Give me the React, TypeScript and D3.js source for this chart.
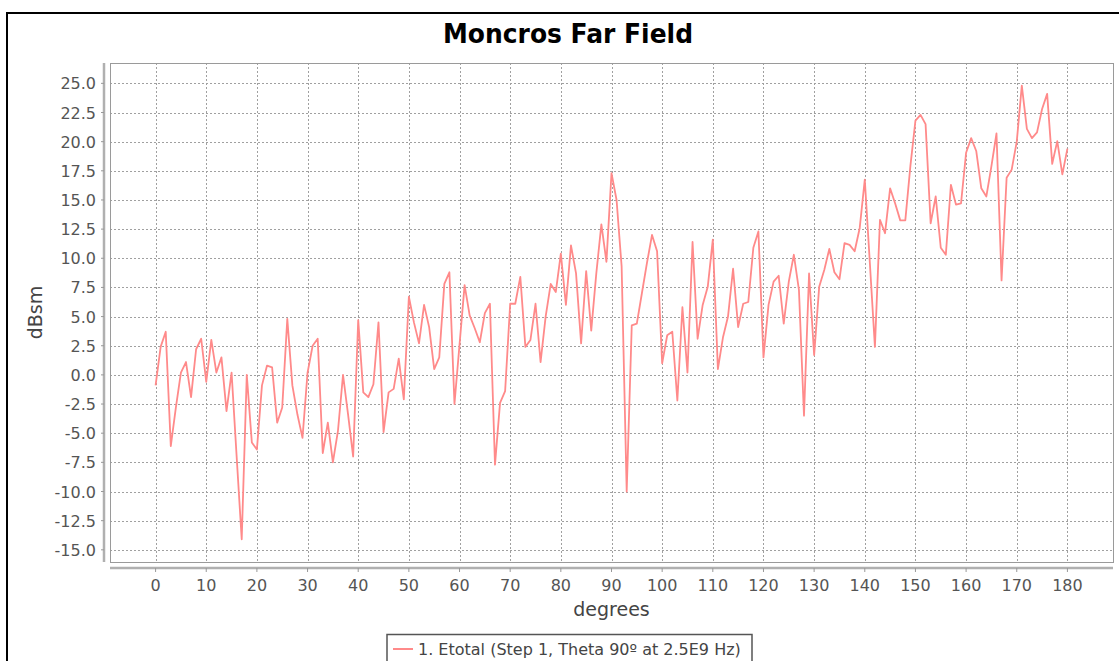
import * as d3 from 'd3';
import React from 'react';

// Etotal (dBsm) sampled every degree from 0 to 180
const etotal = [
  -0.9, 2.4, 3.7, -6.1, -2.8, 0.2, 1.1, -1.9, 2.2, 3.1,
  -0.6, 3.0, 0.2, 1.5, -3.1, 0.2, -7.0, -14.1, 0.0, -5.8,
  -6.4, -0.9, 0.8, 0.65, -4.1, -2.8, 4.8, -0.9, -3.4, -5.4,
  0.2, 2.5, 3.1, -6.7, -4.1, -7.5, -4.8, 0.0, -3.4, -7.0,
  4.7, -1.5, -1.9, -0.8, 4.5, -4.9, -1.5, -1.2, 1.4, -2.1,
  6.7, 4.5, 2.7, 6.0, 4.1, 0.5, 1.5, 7.8, 8.8, -2.5,
  2.6, 7.7, 5.1, 4.0, 2.8, 5.3, 6.1, -7.7, -2.4, -1.4,
  6.1, 6.1, 8.4, 2.4, 3.0, 6.1, 1.1, 5.0, 7.8, 7.1,
  10.4, 6.0, 11.1, 8.7, 2.7, 8.9, 3.8, 8.7, 12.9, 9.7,
  17.3, 15.0, 9.3, -10.0, 4.25, 4.4, 7.0, 9.6, 12.0, 10.6,
  1.0, 3.4, 3.7, -2.2, 5.8, 0.2, 11.4, 3.1, 6.0, 7.55,
  11.6, 0.5, 3.2, 5.0, 9.1, 4.1, 6.1, 6.25, 10.9, 12.3,
  1.5, 6.0, 8.0, 8.5, 4.4, 8.0, 10.3, 7.3, -3.5, 8.7,
  1.7, 7.55, 9.0, 10.8, 8.8, 8.2, 11.3, 11.15, 10.6, 12.6,
  16.75, 9.6, 2.4, 13.3, 12.15, 16.0, 14.7, 13.25, 13.25, 17.9,
  21.8, 22.3, 21.5, 13.0, 15.3, 10.9, 10.3, 16.3, 14.6, 14.7,
  19.05, 20.3, 19.2, 16.0, 15.3, 17.9, 20.7, 8.1, 16.9, 17.6,
  20.0, 24.8, 21.1, 20.3, 20.8, 22.8, 24.1, 18.1, 20.05, 17.2,
  19.4,
];
const degrees = etotal.map((_, i) => i);

const xTicks = [0, 10, 20, 30, 40, 50, 60, 70, 80, 90, 100, 110, 120, 130, 140, 150, 160, 170, 180];
const yTicks = [-15, -12.5, -10, -7.5, -5, -2.5, 0, 2.5, 5, 7.5, 10, 12.5, 15, 17.5, 20, 22.5, 25];

const title = 'Moncros Far Field';
const xLabel = 'degrees';
const yLabel = 'dBsm';
const seriesName = '1. Etotal (Step 1, Theta 90º at 2.5E9 Hz)';

const W = 1119;
const H = 661;
const plot = { left: 110, top: 63, right: 1113, bottom: 562 };
const font = '"DejaVu Sans", Verdana, sans-serif';
const lineColor = '#ff8a8a';

export default function App() {
  const x = d3.scaleLinear().domain([-9, 189]).range([plot.left, plot.right]);
  const yMin = d3.min(etotal) as number;
  const yMax = d3.max(etotal) as number;
  const pad = (yMax - yMin) * 0.05;
  const y = d3.scaleLinear().domain([yMin - pad, yMax + pad]).range([plot.bottom, plot.top]);

  const line = d3.line<number>()
    .x((_, i) => x(degrees[i]))
    .y(d => y(d));

  const axisY = plot.bottom + 6;
  const axisX = plot.left - 6;

  return (
    <svg width={W} height={H} style={{ position: 'absolute', left: 0, top: 0, background: '#fff' }}
         fontFamily={font}>
      <rect x={0} y={0} width={W} height={H} fill="#fff" />
      {/* outer frame */}
      <rect x={7} y={13} width={W + 10} height={H} fill="none" stroke="#000" strokeWidth={2} />

      <text x={568} y={43} textAnchor="middle" fontSize={26} fontWeight="bold" fill="#000"
            textLength={250} lengthAdjust="spacingAndGlyphs">{title}</text>

      {/* grid */}
      <g stroke="#a0a0a0" strokeWidth={1} strokeDasharray="2,2">
        {xTicks.map(t => (
          <line key={'gx' + t} x1={Math.round(x(t)) + 0.5} x2={Math.round(x(t)) + 0.5}
                y1={plot.top} y2={plot.bottom} />
        ))}
        {yTicks.map(t => (
          <line key={'gy' + t} x1={plot.left} x2={plot.right}
                y1={Math.round(y(t)) + 0.5} y2={Math.round(y(t)) + 0.5} />
        ))}
      </g>

      {/* plot outline */}
      <rect x={plot.left + 0.5} y={plot.top + 0.5} width={plot.right - plot.left} height={plot.bottom - plot.top}
            fill="none" stroke="#9a9a9a" strokeWidth={1} />

      {/* series */}
      <path d={line(etotal) ?? ''} fill="none" stroke={lineColor} strokeWidth={1.8} strokeLinejoin="round" />

      {/* y axis */}
      <line x1={axisX} x2={axisX} y1={plot.top} y2={plot.bottom} stroke="#b0b0b0" strokeWidth={2.5} />
      <g fontSize={16} fill="#555" textAnchor="end">
        {yTicks.map(t => (
          <g key={'yt' + t}>
            <line x1={axisX - 3} x2={axisX} y1={y(t)} y2={y(t)} stroke="#999" />
            <text x={96} y={y(t) + 6}>{t.toFixed(1)}</text>
          </g>
        ))}
      </g>
      <text transform={`translate(42,${(plot.top + plot.bottom) / 2}) rotate(-90)`} textAnchor="middle"
            fontSize={19} fill="#444">{yLabel}</text>

      {/* x axis */}
      <line x1={plot.left} x2={plot.right} y1={axisY} y2={axisY} stroke="#b0b0b0" strokeWidth={2.5} />
      <g fontSize={16} fill="#555" textAnchor="middle">
        {xTicks.map(t => (
          <g key={'xt' + t}>
            <line x1={x(t)} x2={x(t)} y1={axisY} y2={axisY + 4} stroke="#999" />
            <text x={x(t)} y={591}>{t}</text>
          </g>
        ))}
      </g>
      <text x={(plot.left + plot.right) / 2} y={616} textAnchor="middle" fontSize={19} fill="#444">{xLabel}</text>

      {/* legend */}
      <rect x={387} y={634.5} width={365} height={40} fill="#fff" stroke="#555" strokeWidth={1.5} />
      <line x1={393} x2={413} y1={649} y2={649} stroke={lineColor} strokeWidth={2} />
      <text x={418} y={655} fontSize={16} fill="#444">{seriesName}</text>
    </svg>
  );
}
